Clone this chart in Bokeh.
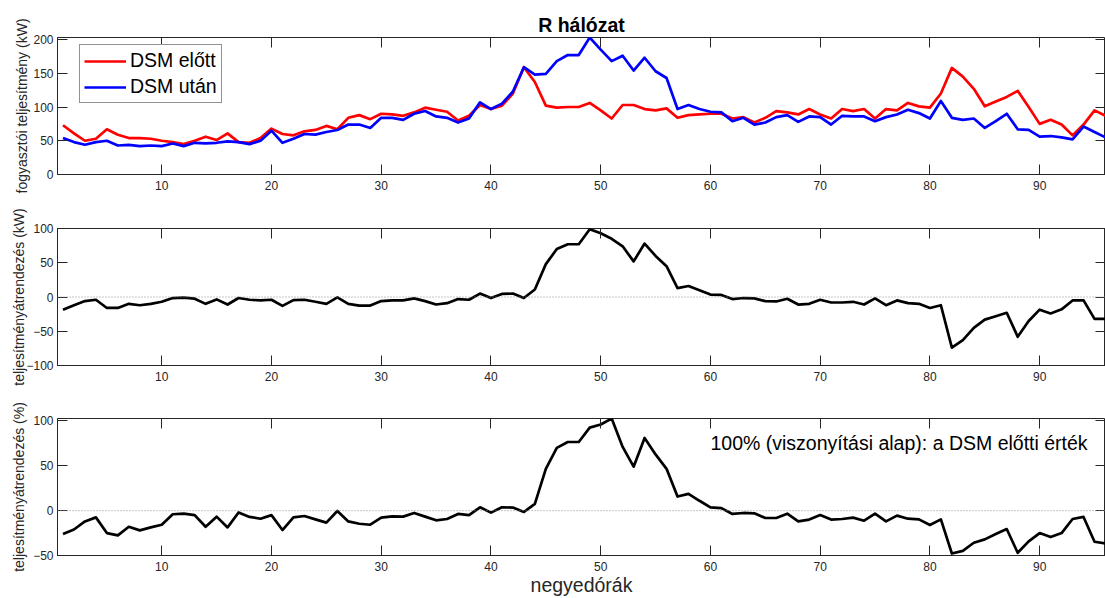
from bokeh.plotting import figure
from bokeh.models import Range1d, FixedTicker, LinearAxis, Span, Label, Legend, LegendItem
from bokeh.layouts import column
from bokeh.embed import file_html
from bokeh.resources import INLINE

quarters = list(range(1, 97))

dsm_before = [73, 61, 50, 53, 67, 59, 54, 54, 53, 50,
              48, 45, 50, 56, 51, 61, 48, 47, 54, 68,
              60, 58, 64, 66, 72, 67, 84, 88, 82, 90,
              89, 87, 92, 99, 96, 93, 80, 87, 103, 97,
              102, 120, 159, 137, 102, 99, 100, 100, 106, 95,
              83, 103, 103, 97, 95, 98, 84, 88, 89, 90,
              90, 83, 85, 77, 84, 94, 92, 89, 97, 89,
              83, 97, 94, 97, 83, 97, 95, 106, 101, 99,
              120, 158, 145, 127, 101, 108, 115, 124, 100, 75,
              81, 74, 58, 74, 95, 87]

dsm_after = [54, 48, 44, 48, 50, 43, 44, 42, 43, 42,
             46, 42, 47, 46, 47, 49, 48, 45, 50, 65,
             47, 53, 60, 59, 63, 66, 74, 74, 69, 84,
             84, 81, 90, 94, 86, 84, 77, 83, 107, 97,
             105, 123, 159, 148, 149, 168, 177, 177, 203, 185,
             168, 176, 154, 173, 153, 143, 97, 103, 97, 93,
             92, 79, 84, 74, 77, 85, 88, 78, 86, 85,
             74, 87, 86, 86, 79, 85, 89, 96, 91, 83,
             109, 84, 81, 83, 69, 79, 90, 67, 66, 56,
             57, 55, 52, 71, 63, 55]

shift_kw = [-18.5, -12, -6, -4, -16, -16, -10, -12, -10, -7,
            -1.5, -1, -2.5, -10, -3.5, -11, -1.5, -4, -5, -4,
            -13, -4.5, -4, -7, -10, -0.5, -10, -12.5, -12.5, -6,
            -5, -5, -2, -6, -11, -9, -3, -4, 5, -1.5,
            4.5, 5, -1.5, 11, 48, 70, 77, 77, 99, 93,
            85, 74, 52, 78, 60, 45, 13, 16, 10, 3.5,
            3, -3, -1.5, -2, -6, -6.5, -2.5, -11, -10, -4,
            -8, -8, -7, -11, -2, -12, -5, -9, -10, -16,
            -12, -74, -63, -45, -33, -28, -23, -58, -35, -18.5,
            -24, -18, -5, -5, -32, -32]

shift_pct = [-26, -21, -12, -7.5, -25, -27.6, -18, -22, -18.7, -15.7,
             -4, -3.4, -5, -18, -6.7, -18.7, -2, -7, -9, -5,
             -21.6, -7.5, -6, -9.7, -13.4, -0.4, -12, -14.6, -15.7, -7.8,
             -6.3, -6.7, -2.6, -6.7, -10.8, -9.3, -3.7, -4.9, 3.7, -2.2,
             3.7, 3.4, -1.5, 7.5, 46.6, 70, 76.5, 76.5, 92.5, 96,
             102.6, 71, 49, 81, 62.7, 46.6, 15.7, 18.7, 11, 3.7,
             2.8, -3.7, -2.6, -3, -8.2, -8.2, -3.4, -12, -10, -4.9,
             -10, -9.3, -7.8, -11.2, -3.4, -12, -5.6, -9, -9.7, -16,
             -9.7, -47.8, -44.8, -35.8, -32, -26, -20.5, -47, -34.3, -25,
             -29.5, -25, -9.3, -7, -34.7, -36.6]

x_ticks = [10, 20, 30, 40, 50, 60, 70, 80, 90]
y_ticks_top = [0, 50, 100, 150, 200]
y_ticks_mid = [-100, -50, 0, 50, 100]
y_ticks_bot = [-50, 0, 50, 100]

title_text = "R hálózat"
legend_labels = ["DSM előtt", "DSM után"]
ylabel_top = "fogyasztói teljesítmény (kW)"
ylabel_mid = "teljesítményátrendezés (kW)"
ylabel_bot = "teljesítményátrendezés (%)"
xlabel = "negyedórák"
note_text = "100% (viszonyítási alap): a DSM előtti érték"

FONT = "Liberation Sans"
AX = "#262626"
W = 1105


def make_fig(height, top, bottom, yr, yticks, ylabel, ylabel_standoff):
    p = figure(width=W, height=height, x_range=Range1d(0.5, 96), y_range=Range1d(*yr),
               output_backend="svg", toolbar_location=None,
               min_border_left=57, min_border_right=0,
               min_border_top=top, min_border_bottom=bottom)
    p.grid.visible = False
    p.outline_line_color = AX
    p.outline_line_width = 1
    p.background_fill_color = "white"
    p.border_fill_color = "white"

    xa = p.below[0]
    xa.ticker = FixedTicker(ticks=x_ticks)
    ya = p.left[0]
    ya.ticker = FixedTicker(ticks=yticks)
    for ax in (xa, ya):
        ax.major_tick_in = 10
        ax.major_tick_out = 0
        ax.minor_tick_line_color = None
        ax.axis_line_color = AX
        ax.major_tick_line_color = AX
        ax.major_label_text_font = FONT
        ax.major_label_text_font_size = "12px"
        ax.major_label_text_color = AX
    xa.major_label_standoff = 6
    ya.major_label_standoff = 4
    ya.axis_label = ylabel
    ya.axis_label_text_font = FONT
    ya.axis_label_text_font_size = "14px"
    ya.axis_label_text_font_style = "normal"
    ya.axis_label_text_color = AX
    ya.axis_label_standoff = ylabel_standoff

    top_ax = LinearAxis(ticker=FixedTicker(ticks=x_ticks),
                        major_label_overrides={t: "" for t in x_ticks},
                        major_label_standoff=0, major_tick_in=10, major_tick_out=0,
                        minor_tick_line_color=None, axis_line_color=None,
                        major_tick_line_color=AX)
    p.add_layout(top_ax, "above")
    right_ax = LinearAxis(ticker=FixedTicker(ticks=yticks),
                          major_label_overrides={t: "" for t in yticks},
                          major_label_standoff=0, major_tick_in=10, major_tick_out=0,
                          minor_tick_line_color=None, axis_line_color=None,
                          major_tick_line_color=AX)
    p.add_layout(right_ax, "right")
    return p, xa


# --- top panel
p1, _ = make_fig(201, 37, 27, (0, 203), y_ticks_top, ylabel_top, 0)
p1.title.text = title_text
p1.title.text_font = FONT
p1.title.text_font_size = "19.5px"
p1.title.text_font_style = "bold"
p1.title.text_color = "black"
p1.title.align = "center"
p1.title.standoff = 4

r1 = p1.line(quarters, dsm_before, line_color="#FF0000", line_width=2.7, line_join="round")
r2 = p1.line(quarters, dsm_after, line_color="#0000FF", line_width=2.7, line_join="round")
legend = Legend(items=[LegendItem(label=legend_labels[0], renderers=[r1]),
                       LegendItem(label=legend_labels[1], renderers=[r2])],
                location=(22, 71), orientation="vertical",
                label_text_font=FONT, label_text_font_size="19.5px", label_text_color="black",
                glyph_width=42, glyph_height=20, label_height=20, label_standoff=4,
                spacing=3, padding=4, margin=0,
                border_line_color=AX, border_line_width=1,
                background_fill_color="white", background_fill_alpha=1)
p1.add_layout(legend)

# --- middle panel
p2, _ = make_fig(190, 27, 26, (-100, 100), y_ticks_mid, ylabel_mid, -4)
p2.add_layout(Span(location=0, dimension="width", line_color="#8c8c8c", line_width=1, line_dash="1 2"))
p2.line(quarters, shift_kw, line_color="black", line_width=2.7, line_join="round")

# --- bottom panel
p3, x3 = make_fig(207, 27, 43, (-50, 102.7), y_ticks_bot, ylabel_bot, 3)
p3.add_layout(Span(location=0, dimension="width", line_color="#8c8c8c", line_width=1, line_dash="1 2"))
p3.line(quarters, shift_pct, line_color="black", line_width=2.7, line_join="round")
p3.add_layout(Label(x=60, y=75, text=note_text, text_font=FONT, text_font_size="19.5px",
                    text_color="black", text_align="left", text_baseline="middle"))
x3.axis_label = xlabel
x3.axis_label_text_font = FONT
x3.axis_label_text_font_size = "19.5px"
x3.axis_label_text_font_style = "normal"
x3.axis_label_text_color = AX
x3.axis_label_standoff = 0

layout = column(p1, p2, p3, spacing=0)
open("out.html", "w").write(file_html(layout, INLINE))
